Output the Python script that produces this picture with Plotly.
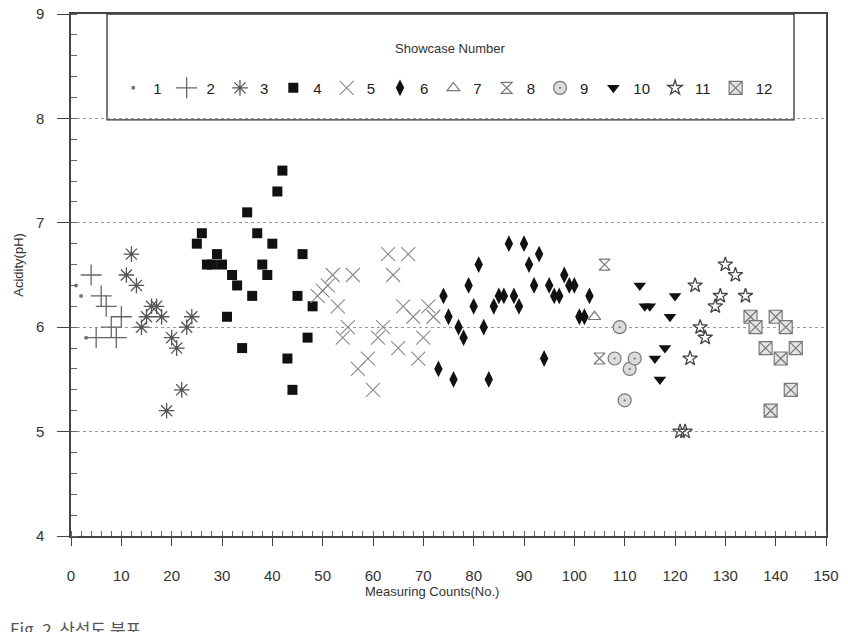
import plotly.graph_objects as go

# ---- data ----
s1_x = [1, 2, 3]
s1_y = [6.4, 6.3, 5.9]
s2_x = [4, 5, 6, 7, 8, 9, 10]
s2_y = [6.5, 5.9, 6.3, 6.2, 6.0, 5.9, 6.1]
s3_x = [11, 12, 13, 14, 15, 16, 17, 18, 19, 20, 21, 22, 23, 24]
s3_y = [6.5, 6.7, 6.4, 6.0, 6.1, 6.2, 6.2, 6.1, 5.2, 5.9, 5.8, 5.4, 6.0, 6.1]
s4_x = [25, 26, 27, 28, 29, 30, 31, 32, 33, 34, 35, 36, 37, 38, 39, 40, 41, 42, 43, 44, 45, 46, 47, 48]
s4_y = [6.8, 6.9, 6.6, 6.6, 6.7, 6.6, 6.1, 6.5, 6.4, 5.8, 7.1, 6.3, 6.9, 6.6, 6.5, 6.8, 7.3, 7.5, 5.7, 5.4, 6.3, 6.7, 5.9, 6.2]
s5_x = [49, 50, 51, 52, 53, 54, 55, 56, 57, 59, 60, 61, 62, 63, 64, 65, 66, 67, 68, 69, 70, 71, 72]
s5_y = [6.3, 6.35, 6.4, 6.5, 6.2, 5.9, 6.0, 6.5, 5.6, 5.7, 5.4, 5.9, 6.0, 6.7, 6.5, 5.8, 6.2, 6.7, 6.1, 5.7, 5.9, 6.2, 6.1]
s6_x = [73, 74, 75, 76, 77, 78, 79, 80, 81, 82, 83, 84, 85, 86, 87, 88, 89, 90, 91, 92, 93, 94, 95, 96, 97, 98, 99, 100, 101, 102, 103]
s6_y = [5.6, 6.3, 6.1, 5.5, 6.0, 5.9, 6.4, 6.2, 6.6, 6.0, 5.5, 6.2, 6.3, 6.3, 6.8, 6.3, 6.2, 6.8, 6.6, 6.4, 6.7, 5.7, 6.4, 6.3, 6.3, 6.5, 6.4, 6.4, 6.1, 6.1, 6.3]
s7_x = [104]
s7_y = [6.1]
s8_x = [105, 106]
s8_y = [5.7, 6.6]
s9_x = [108, 109, 110, 111, 112]
s9_y = [5.7, 6.0, 5.3, 5.6, 5.7]
s10_x = [113, 114, 115, 116, 117, 118, 119, 120]
s10_y = [6.4, 6.2, 6.2, 5.7, 5.5, 5.8, 6.1, 6.3]
s11_x = [121, 122, 123, 124, 125, 126, 128, 129, 130, 132, 134]
s11_y = [5.0, 5.0, 5.7, 6.4, 6.0, 5.9, 6.2, 6.3, 6.6, 6.5, 6.3]
s12_x = [135, 136, 138, 139, 140, 141, 142, 143, 144]
s12_y = [6.1, 6.0, 5.8, 5.2, 6.1, 5.7, 6.0, 5.4, 5.8]

series_names = ["1", "2", "3", "4", "5", "6", "7", "8", "9", "10", "11", "12"]
xs = [s1_x, s2_x, s3_x, s4_x, s5_x, s6_x, s7_x, s8_x, s9_x, s10_x, s11_x, s12_x]
ys = [s1_y, s2_y, s3_y, s4_y, s5_y, s6_y, s7_y, s8_y, s9_y, s10_y, s11_y, s12_y]

x_ticks = list(range(0, 151, 10))
y_ticks = [4, 5, 6, 7, 8, 9]

# ---- styles ----
styles = [
    dict(symbol="circle", size=4, color="#777777", line=dict(width=0)),
    dict(symbol="cross-thin-open", size=15, color="#666666", line=dict(width=1.3, color="#666666")),
    dict(symbol="asterisk-open", size=13, color="#555555", line=dict(width=1.3, color="#555555")),
    dict(symbol="square", size=10, color="#111111", line=dict(width=0)),
    dict(symbol="x-thin-open", size=14, color="#8a8a8a", line=dict(width=1.1, color="#8a8a8a")),
    dict(symbol="diamond-tall", size=12, color="#111111", line=dict(width=0)),
    dict(symbol="triangle-up-open", size=11, color="#777777", line=dict(width=1.2, color="#777777")),
    dict(symbol="hourglass-open", size=11, color="#777777", line=dict(width=1.2, color="#777777")),
    dict(symbol="circle-dot", size=13, color="#dcdcdc", line=dict(width=1.2, color="#777777")),
    dict(symbol="triangle-down", size=11, color="#111111", line=dict(width=0)),
    dict(symbol="star-open", size=11, color="#444444", line=dict(width=1.3, color="#444444")),
    dict(symbol="square-x", size=13, color="#e4e4e4", line=dict(width=1.2, color="#777777")),
]

fig = go.Figure()
for name, x, y, st in zip(series_names, xs, ys, styles):
    fig.add_trace(go.Scatter(x=x, y=y, mode="markers", name=name, marker=st))

font_family = "Liberation Sans, Arial, sans-serif"

# the page adds an 8px body margin, so the figure is sized 840x624
fig.update_layout(
    width=840, height=624,
    margin=dict(l=63, r=22, t=6, b=96),
    paper_bgcolor="white", plot_bgcolor="white",
    font=dict(family=font_family, color="#333333"),
    showlegend=True,
    legend=dict(
        orientation="h", x=0.056, y=0.858, xanchor="left", yanchor="middle",
        bgcolor="rgba(0,0,0,0)", borderwidth=0,
        font=dict(size=15, color="#222222"), itemwidth=30,
    ),
    xaxis=dict(
        range=[0, 150], tickvals=x_ticks, ticktext=[str(v) for v in x_ticks],
        showline=True, linecolor="#444444", linewidth=1.5, mirror=True,
        ticks="outside", ticklen=8, tickcolor="#444444",
        minor=dict(dtick=2, ticks="inside", ticklen=5, tickcolor="#666666"),
        showgrid=False, zeroline=False, automargin=False,
        tickfont=dict(size=15, color="#333333"), ticklabelstandoff=17,
        ticklabeloverflow="allow",
    ),
    yaxis=dict(
        range=[4, 9], tickvals=y_ticks, ticktext=[str(v) for v in y_ticks],
        showline=True, linecolor="#444444", linewidth=1.5, mirror=True,
        ticks="outside", ticklen=12, tickcolor="#444444",
        minor=dict(dtick=0.2, ticks="inside", ticklen=6, tickcolor="#666666"),
        showgrid=True, gridcolor="#9a9a9a", griddash="dot", gridwidth=1,
        zeroline=False, automargin=False,
        tickfont=dict(size=15, color="#333333"), ticklabelstandoff=10,
        ticklabeloverflow="allow",
    ),
    shapes=[
        dict(type="rect", xref="paper", yref="paper", x0=0.0477, x1=0.9576, y0=0.797, y1=1.0,
             line=dict(color="#333333", width=1.3), fillcolor="white", layer="below"),
    ],
    annotations=[
        dict(text="Showcase Number", xref="paper", yref="paper", x=0.502, y=0.953,
             showarrow=False, font=dict(size=13, color="#333333")),
        dict(text="Measuring Counts(No.)", xref="paper", yref="paper", x=0.478, y=-0.125,
             showarrow=False, font=dict(size=13, color="#333333")),
        dict(text="Acidity(pH)", xref="paper", yref="paper", x=-0.07, y=0.52, textangle=-90,
             xanchor="center", showarrow=False, font=dict(size=13, color="#333333")),
        dict(text="Fig. 2  산성도 분포", xref="paper", yref="paper", x=0.0, y=-0.15,
             xanchor="left", yanchor="top", xshift=-63, showarrow=False,
             font=dict(size=17, color="#555555", family="Noto Sans CJK KR, sans-serif")),
    ],
)

fig.write_html("out.html")
